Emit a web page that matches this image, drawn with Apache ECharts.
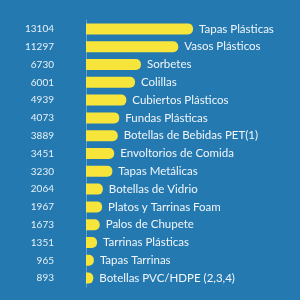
<!DOCTYPE html>
<html>
<head>
<meta charset="utf-8">
<script src="https://cdn.jsdelivr.net/npm/echarts@6/dist/echarts.min.js"></script>
<style>
  html, body { margin: 0; padding: 0; background: #2479b0; }
  #chart { width: 300px; height: 300px; }
</style>
</head>
<body>
<div id="chart"></div>
<script>
// datos
const categories = [
  'Tapas Plásticas', 'Vasos Plásticos', 'Sorbetes', 'Colillas', 'Cubiertos Plásticos',
  'Fundas Plásticas', 'Botellas de Bebidas PET(1)', 'Envoltorios de Comida', 'Tapas Metálicas',
  'Botellas de Vidrio', 'Platos y Tarrinas Foam', 'Palos de Chupete', 'Tarrinas Plásticas',
  'Tapas Tarrinas', 'Botellas PVC/HDPE (2,3,4)'
]
const values = [13104, 11297, 6730, 6001, 4939, 4073, 3889, 3451, 3230, 2064, 1967, 1673, 1351, 965, 893]

const chart = echarts.init(document.getElementById('chart'))

const option = {
  backgroundColor: '#2479b0',
  animation: false,
  grid: {
    left: 86,
    right: 0,
    top: 20,
    height: 267
  },
  xAxis: {
    type: 'value',
    min: 0,
    max: 26208,
    show: false
  },
  yAxis: {
    type: 'category',
    data: categories,
    inverse: true,
    offset: 16,
    axisLine: {
      show: true,
      lineStyle: { color: 'rgba(255,255,255,0.3)', width: 1 }
    },
    axisTick: { show: false },
    axisLabel: {
      margin: 16,
      fontFamily: 'Lato',
      fontSize: 10,
      color: '#e8f1f7',
      formatter: (v, i) => values[i]
    }
  },
  series: [
    {
      type: 'bar',
      data: values,
      barWidth: 11,
      itemStyle: {
        color: '#f7e53b',
        borderRadius: [0, 5, 5, 0]
      },
      label: {
        show: true,
        position: 'right',
        distance: 6,
        fontFamily: 'Lato',
        fontSize: 11.5,
        color: '#f2f6fa',
        formatter: (p) => p.name
      }
    }
  ]
}

chart.setOption(option)
</script>
</body>
</html>
